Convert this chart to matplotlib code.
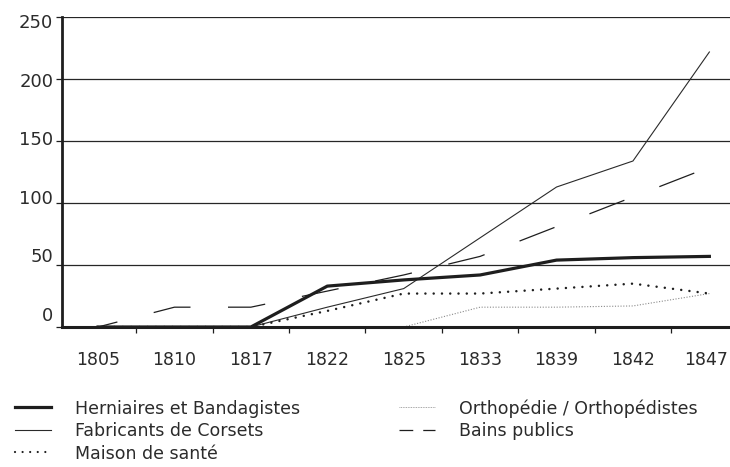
import matplotlib
matplotlib.use("Agg")
import matplotlib.pyplot as plt
from matplotlib.lines import Line2D
from matplotlib import transforms

years = ['1805', '1810', '1817', '1822', '1825', '1833', '1839', '1842', '1847']
herniaires = [0, 0, 0, 33, 38, 42, 54, 56, 57]
corsets = [0, 0, 0, 16, 31, 72, 113, 134, 222]
maison = [0, 0, 0, 13, 27, 27, 31, 35, 27]
orthopedie = [0, 0, 0, 0, 0, 16, 16, 17, 27]
bains = [0, 16, 16, 29, 42, 57, 81, 105, 129]
y_ticks = [0, 50, 100, 150, 200, 250]

labels = ['Herniaires et Bandagistes', 'Fabricants de Corsets', 'Maison de santé',
          'Orthopédie / Orthopédistes', 'Bains publics']

plt.rcParams['font.family'] = ['DejaVu Sans']
ink = '#1e1e1e'
txt = '#2b2b2b'

fig = plt.figure(figsize=(7.3, 4.67), dpi=100)
ax = fig.add_axes([61.5 / 730, 140 / 467, 668.5 / 730, 309.7 / 467])

x = list(range(len(years)))

# series
ax.plot(x, orthopedie, color='#8a8a8a', lw=0.8, ls=(0, (1, 1.5)))
ax.plot(x, maison, color=ink, lw=1.8, ls=(0, (0.01, 3.3)), dash_capstyle='round')
ax.plot(x, bains, color=ink, lw=0.9, ls=(14, (30, 30)))
ax.plot(x, corsets, color='#2a2a2a', lw=0.8)
ax.plot(x, herniaires, color=ink, lw=2.3, solid_joinstyle='miter')

ax.set_xlim(-0.478, 8.27)
ax.set_ylim(0, 250)

# grid + spines
ax.set_axisbelow(True)
ax.set_yticks(y_ticks)
ax.yaxis.grid(True, color='#262626', lw=0.9)
ax.tick_params(axis='y', length=4, width=0.9, color=ink, labelleft=False)
for s in ['top', 'right']:
    ax.spines[s].set_visible(False)
ax.spines['left'].set_linewidth(2.0)
ax.spines['bottom'].set_linewidth(2.2)
ax.spines['left'].set_color(ink)
ax.spines['bottom'].set_color(ink)

# y labels (placed slightly off the grid, like the original layout)
blend = transforms.blended_transform_factory(ax.transAxes, ax.transData)
for v in y_ticks:
    ax.text(-0.0125, 4.84 + 0.945 * v, str(v), ha='right', va='baseline',
            fontsize=13, color=txt, transform=blend)

# x axis: labels at categories, tick marks between them
ax.set_xticks(x)
ax.set_xticklabels(years, fontsize=12.5, color=txt)
ax.set_xticks([i + 0.5 for i in range(len(years) - 1)], minor=True)
ax.tick_params(axis='x', which='major', length=0, pad=17)
ax.tick_params(axis='x', which='minor', length=4.5, width=0.9, color=ink)
# nudge the last label so it stays inside the picture
last = ax.get_xticklabels()[-1]
last.set_transform(last.get_transform() +
                   transforms.ScaledTranslation(-3 / 100, 0, fig.dpi_scale_trans))

handles = [
    Line2D([], [], color=ink, lw=2.3),
    Line2D([], [], color='#2a2a2a', lw=0.8),
    Line2D([], [], color=ink, lw=1.6, ls=(0, (0.01, 3.4)), dash_capstyle='round'),
    Line2D([], [], color='#8a8a8a', lw=0.6, ls=(0, (1, 1))),
    Line2D([], [], color=ink, lw=0.9, ls=(0, (11, 8))),
]
fig.legend(handles, labels, loc='upper left', bbox_to_anchor=(15 / 730, 1 - 399 / 467),
           ncol=2, frameon=False, borderaxespad=0, borderpad=0, fontsize=12.5,
           handlelength=2.1, handletextpad=1.35, columnspacing=5.7, labelspacing=0.26,
           labelcolor=txt)

fig.savefig('out.png', dpi=100)
